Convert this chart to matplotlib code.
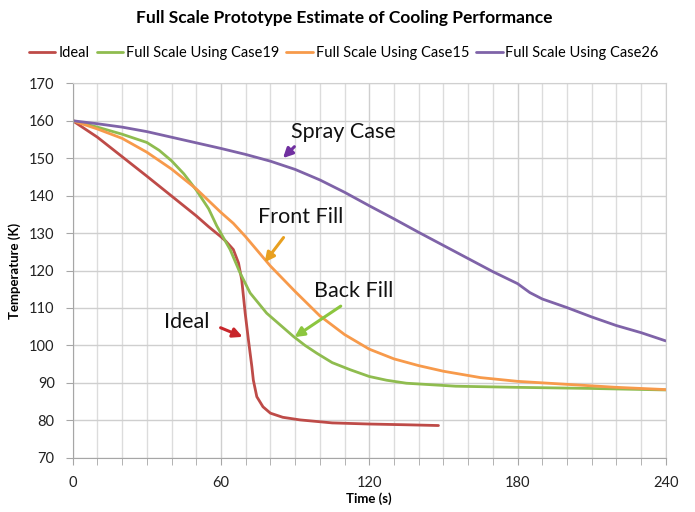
import matplotlib
matplotlib.use("Agg")
import matplotlib.pyplot as plt
from matplotlib.ticker import MultipleLocator

plt.rcParams["font.family"] = ["Lato", "DejaVu Sans"]

# values
ideal_t = [0, 10, 20, 30, 40, 50, 55, 60, 62, 65, 67.1, 68.4, 69.8, 71.1, 72.5, 73.1, 74.5, 77, 80, 85, 92, 105, 120, 135, 148]
ideal_T = [160, 155.6, 150.4, 145.2, 139.9, 134.6, 131.7, 129.0, 127.8, 125.6, 122.0, 117.5, 108.6, 101.5, 94.3, 90.7, 86.3, 83.6, 81.9, 80.8, 80.1, 79.3, 79.0, 78.8, 78.6]

case19_t = [0, 10, 20, 30, 35, 40, 45, 50, 55, 58.3, 63.7, 67.7, 71.8, 78.5, 89.3, 94, 98.8, 105, 112.3, 120, 127, 135, 155, 180, 210, 240]
case19_T = [160, 158.3, 156.4, 154.2, 152.1, 149.3, 145.8, 141.5, 136.5, 131.9, 125.6, 119.4, 114.0, 108.6, 102.4, 100.0, 97.9, 95.4, 93.5, 91.7, 90.7, 89.9, 89.1, 88.8, 88.5, 88.1]

case15_t = [0, 10, 20, 30, 40, 50, 60, 65, 70, 80, 90, 100, 110, 120, 130, 140, 150, 165, 180, 200, 220, 240]
case15_T = [160, 157.8, 155.3, 151.6, 147.1, 141.8, 135.5, 132.6, 129.0, 121.2, 114.4, 107.9, 102.9, 99.0, 96.4, 94.6, 93.1, 91.4, 90.4, 89.6, 88.8, 88.2]

case26_t = [0, 10, 20, 30, 40, 50, 60, 70, 80, 90, 100, 110, 120, 130, 140, 150, 160, 170, 180, 185, 190, 200, 210, 220, 230, 240]
case26_T = [160, 159.2, 158.3, 157.1, 155.6, 154.1, 152.6, 151.0, 149.2, 147.0, 144.2, 140.9, 137.3, 133.8, 130.2, 126.7, 123.2, 119.7, 116.5, 114.1, 112.4, 110.1, 107.6, 105.3, 103.4, 101.2]

series_names = ["Ideal", "Full Scale Using Case19", "Full Scale Using Case15", "Full Scale Using Case26"]
series_colors = ["#BE4B48", "#8FBC4F", "#F79A4B", "#7F63A8"]

fig = plt.figure(figsize=(6.95, 5.12), dpi=100)
ax = fig.add_axes([0.1046, 0.106, 0.8534, 0.7313])

for t, T, name, c in zip([ideal_t, case19_t, case15_t, case26_t],
                         [ideal_T, case19_T, case15_T, case26_T],
                         series_names, series_colors):
    ax.plot(t, T, color=c, lw=2, label=name, solid_capstyle="round", solid_joinstyle="round")

ax.set_xlim(0, 240)
ax.set_ylim(70, 170)
ax.xaxis.set_major_locator(MultipleLocator(60))
ax.xaxis.set_minor_locator(MultipleLocator(10))
ax.yaxis.set_major_locator(MultipleLocator(10))
ax.grid(which="major", color="#CFCFCF", lw=1)
ax.grid(which="minor", axis="x", color="#DCDCDC", lw=1)
ax.set_axisbelow(True)
for s in ax.spines.values():
    s.set_color("#D0D0D0")
ax.spines["left"].set_color("#A6A6A6")
ax.spines["bottom"].set_color("#A6A6A6")
ax.tick_params(which="both", direction="out", color="#A6A6A6", labelsize=10.5,
               labelcolor="#222222", pad=8)
ax.tick_params(which="major", length=5)
ax.tick_params(which="minor", length=5)

ax.set_xlabel("Time (s)", fontsize=9.5, fontweight="bold", labelpad=2)
ax.set_ylabel("Temperature (K)", fontsize=9.5, fontweight="bold", labelpad=6)

fig.text(0.495, 0.965, "Full Scale Prototype Estimate of Cooling Performance",
         ha="center", va="center", fontsize=12.5, fontweight="bold")
fig.legend(loc="center", bbox_to_anchor=(0.495, 0.897), ncol=4, frameon=False,
           fontsize=10.5, handlelength=1.8, handletextpad=0.2, columnspacing=0.5)

# callout labels with arrows
notes = [
    ("Spray Case", (88.5, 157), (84.3, 149.5), (90.5, 153.6), "#7030A0"),
    ("Front Fill", (75, 134.2), (77, 121.6), (86, 129.4), "#E8A020"),
    ("Back Fill", (97.5, 114.6), (88.8, 101.8), (109.4, 110.9), "#8CC63F"),
    ("Ideal", (37, 106.2), (69.8, 102.0), (58.8, 105.0), "#C8262B"),
]
for label, pos, tip, tail, c in notes:
    ax.text(pos[0], pos[1], label, fontsize=15.5, ha="left", va="center", color="#111111")
    ax.annotate("", xy=tip, xytext=tail,
                arrowprops=dict(arrowstyle="-|>", color=c, lw=2.2, mutation_scale=14))

fig.savefig("out.png", dpi=100)
